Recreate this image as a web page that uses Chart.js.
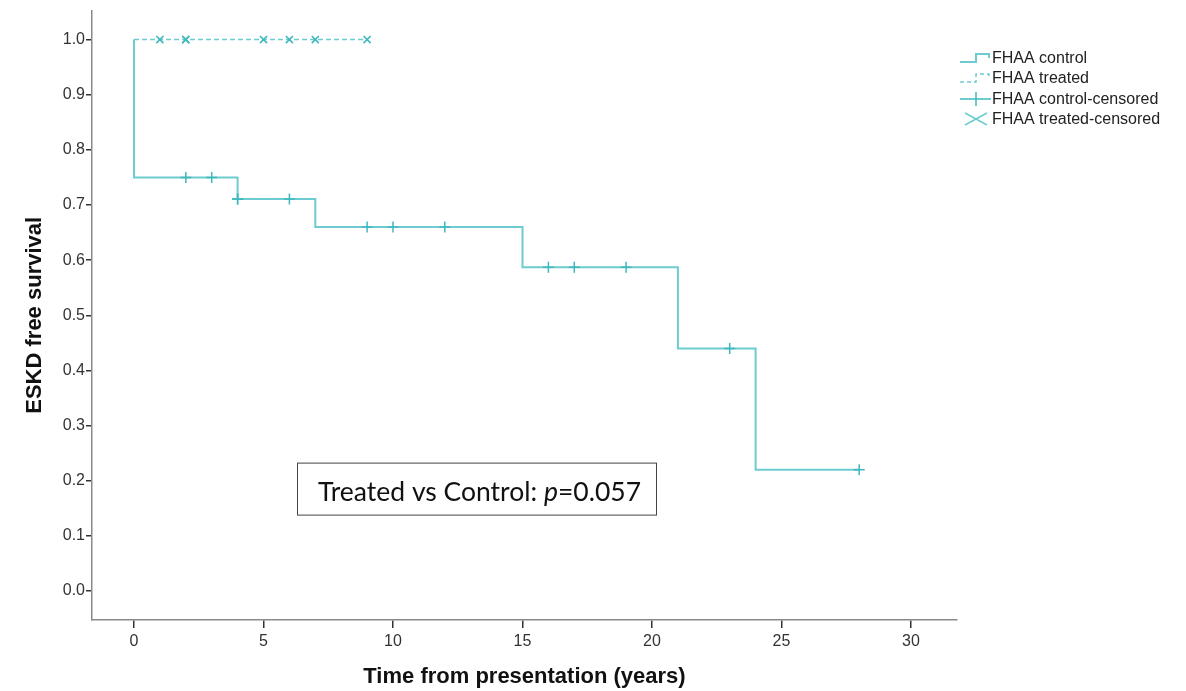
<!DOCTYPE html>
<html>
<head>
<meta charset="utf-8">
<script src="https://cdn.jsdelivr.net/npm/chart.js@4"></script>
<style>
  html, body { margin: 0; padding: 0; background: #ffffff; }
  #wrap { width: 1186px; height: 691px; position: relative; }
</style>
</head>
<body>
<div id="wrap"><canvas id="km"></canvas></div>
<script>
// Kaplan-Meier estimates, FHAA control group (time in years, survival fraction)
const controlStepTimes = [0, 0, 4, 7, 15, 21, 24, 28];
const controlStepSurvival = [1.0, 0.75, 0.711, 0.66, 0.587, 0.44, 0.22, 0.22];
const controlCensoredTimes = [2, 3, 4, 4, 6, 9, 10, 12, 16, 17, 19, 23, 28];

// FHAA treated group: no events during follow-up
const treatedStepTimes = [0, 9];
const treatedStepSurvival = [1.0, 1.0];
const treatedCensoredTimes = [1, 2, 2, 5, 6, 7, 9];

const xTickValues = [0, 5, 10, 15, 20, 25, 30];
const yTickValues = [0.0, 0.1, 0.2, 0.3, 0.4, 0.5, 0.6, 0.7, 0.8, 0.9, 1.0];

const seriesLabels = ['FHAA control', 'FHAA treated', 'FHAA control-censored', 'FHAA treated-censored'];
const xAxisTitle = 'Time from presentation (years)';
const yAxisTitle = 'ESKD free survival';
const pValue = '0.057';

const LINE = 'rgb(108,204,208)';
const MARK = 'rgb(62,184,190)';
const AXIS = '#8a8a8a';
const TICK = '#333333';

// survival value of a step curve at time t (value of the last step at or before t)
function stepValue(times, surv, t) {
  let v = surv[0];
  for (let i = 0; i < times.length; i++) if (times[i] <= t) v = surv[i];
  return v;
}

const controlLine = controlStepTimes.map((t, i) => ({ x: t, y: controlStepSurvival[i] }));
const treatedLine = treatedStepTimes.map((t, i) => ({ x: t, y: treatedStepSurvival[i] }));
const controlCensored = controlCensoredTimes.map(t => ({ x: t, y: stepValue(controlStepTimes, controlStepSurvival, t) }));
const treatedCensored = treatedCensoredTimes.map(t => ({ x: t, y: stepValue(treatedStepTimes, treatedStepSurvival, t) }));

// legend block at the right of the plot
const legendPlugin = {
  id: 'kmLegend',
  afterDraw(chart) {
    const ctx = chart.ctx;
    const x0 = chart.chartArea.right + 3;
    const rows = [58, 78, 99, 119];
    ctx.save();
    ctx.font = '16px "Liberation Sans", Arial, sans-serif';
    ctx.fillStyle = '#222';
    ctx.textBaseline = 'middle';
    // solid step icon
    ctx.strokeStyle = LINE; ctx.lineWidth = 2;
    ctx.beginPath();
    ctx.moveTo(x0, rows[0] + 4); ctx.lineTo(x0 + 16, rows[0] + 4);
    ctx.lineTo(x0 + 16, rows[0] - 4); ctx.lineTo(x0 + 29, rows[0] - 4); ctx.lineTo(x0 + 29, rows[0]);
    ctx.stroke();
    // dashed step icon
    ctx.lineWidth = 1.5; ctx.setLineDash([4, 3]);
    ctx.beginPath();
    ctx.moveTo(x0, rows[1] + 4); ctx.lineTo(x0 + 16, rows[1] + 4);
    ctx.lineTo(x0 + 16, rows[1] - 4); ctx.lineTo(x0 + 29, rows[1] - 4); ctx.lineTo(x0 + 29, rows[1]);
    ctx.stroke();
    ctx.setLineDash([]);
    // plus icon with line
    ctx.lineWidth = 2;
    ctx.beginPath();
    ctx.moveTo(x0, rows[2]); ctx.lineTo(x0 + 31, rows[2]);
    ctx.stroke();
    ctx.strokeStyle = MARK; ctx.lineWidth = 1.5;
    ctx.beginPath();
    ctx.moveTo(x0 + 16, rows[2] - 7); ctx.lineTo(x0 + 16, rows[2] + 7);
    ctx.stroke();
    // x icon
    ctx.strokeStyle = LINE; ctx.lineWidth = 1.5;
    ctx.beginPath();
    ctx.moveTo(x0 + 5, rows[3] - 6); ctx.lineTo(x0 + 27, rows[3] + 6);
    ctx.moveTo(x0 + 5, rows[3] + 6); ctx.lineTo(x0 + 27, rows[3] - 6);
    ctx.stroke();
    seriesLabels.forEach((s, i) => ctx.fillText(s, x0 + 32, rows[i] + 1));
    ctx.restore();
  }
};

// boxed log-rank result inside the plot
const pValuePlugin = {
  id: 'pValueBox',
  afterDraw(chart) {
    const ctx = chart.ctx;
    const a = chart.chartArea;
    const bx = a.left + 205, by = a.top + 452, bw = 359, bh = 52;
    ctx.save();
    ctx.fillStyle = '#fff';
    ctx.fillRect(bx, by, bw, bh);
    ctx.strokeStyle = '#444'; ctx.lineWidth = 1;
    ctx.strokeRect(bx + 0.5, by + 0.5, bw, bh);
    ctx.fillStyle = '#111';
    ctx.textBaseline = 'alphabetic';
    const base = by + 38;
    let x = bx + 21;
    const reg = '26.5px Lato, "Open Sans", sans-serif';
    const ita = 'italic 26.5px Lato, "Open Sans", sans-serif';
    const parts = [['Treated vs Control: ', reg], ['p', ita], ['=' + pValue, reg]];
    parts.forEach(([t, f]) => { ctx.font = f; ctx.fillText(t, x, base); x += ctx.measureText(t).width; });
    ctx.restore();
  }
};

new Chart(document.getElementById('km'), {
  type: 'scatter',
  data: {
    datasets: [
      { label: seriesLabels[0], data: controlLine, showLine: true, stepped: 'before',
        borderColor: LINE, borderWidth: 2, pointRadius: 0, fill: false, order: 3 },
      { label: seriesLabels[1], data: treatedLine, showLine: true, stepped: 'before',
        borderColor: LINE, borderWidth: 1.5, borderDash: [5, 3], pointRadius: 0, fill: false, order: 4 },
      { label: seriesLabels[2], data: controlCensored, showLine: false, pointStyle: 'cross',
        pointRadius: 5.5, borderColor: MARK, pointBorderWidth: 1.5, backgroundColor: MARK, order: 1 },
      { label: seriesLabels[3], data: treatedCensored, showLine: false, pointStyle: 'crossRot',
        pointRadius: 5, borderColor: MARK, pointBorderWidth: 1.6, backgroundColor: MARK, order: 2 }
    ]
  },
  options: {
    responsive: true,
    maintainAspectRatio: false,
    animation: false,
    events: [],
    layout: { padding: { left: 0, right: 229, top: 10, bottom: 0 } },
    plugins: { legend: { display: false }, tooltip: { enabled: false } },
    scales: {
      x: {
        type: 'linear', min: -1.622, max: 31.776,
        afterBuildTicks: s => { s.ticks = xTickValues.map(v => ({ value: v })); },
        afterFit: s => { s.height = 71; },
        border: { display: true, color: AXIS, width: 1.5 },
        grid: { display: true, drawOnChartArea: false, drawTicks: true, tickLength: 8, color: TICK, lineWidth: 1.5 },
        ticks: { color: TICK, padding: 4, font: { family: '"Liberation Sans", Arial, sans-serif', size: 16 } },
        title: { display: true, text: xAxisTitle, color: '#111', padding: { top: 0, bottom: 1 },
          font: { family: '"Liberation Sans", Arial, sans-serif', size: 22, weight: 'bold' } }
      },
      y: {
        type: 'linear', min: -0.0525, max: 1.0525,
        afterBuildTicks: s => { s.ticks = yTickValues.map(v => ({ value: v })); },
        afterFit: s => { s.width = 92; },
        border: { display: true, color: AXIS, width: 1.5 },
        grid: { display: true, drawOnChartArea: false, drawTicks: true, tickLength: 6, color: TICK, lineWidth: 1.5 },
        ticks: { color: TICK, padding: 1, callback: v => Number(v).toFixed(1),
          font: { family: '"Liberation Sans", Arial, sans-serif', size: 16 } },
        title: { display: true, text: yAxisTitle, color: '#111', padding: { top: 22, bottom: 0 },
          font: { family: '"Liberation Sans", Arial, sans-serif', size: 22, weight: 'bold' } }
      }
    }
  },
  plugins: [legendPlugin, pValuePlugin]
});
</script>
</body>
</html>
